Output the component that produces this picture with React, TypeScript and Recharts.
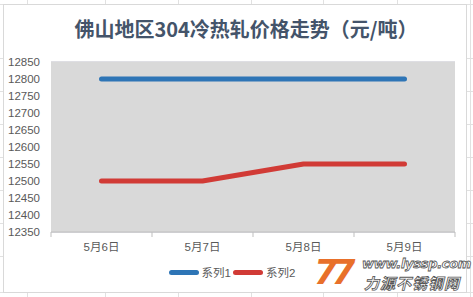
import React from "react";
import { LineChart, Line, XAxis, YAxis, CartesianGrid, Legend } from "recharts";

const categories = ["5月6日", "5月7日", "5月8日", "5月9日"];
const series1 = [12800, 12800, 12800, 12800];
const series2 = [12500, 12500, 12550, 12550];
const yTicks = [12350, 12400, 12450, 12500, 12550, 12600, 12650, 12700, 12750, 12800, 12850];
const seriesNames = ["系列1", "系列2"];
const seriesColors = ["#2e75b6", "#d13b36"];
const title = "佛山地区304冷热轧价格走势（元/吨）";

const data = categories.map((c, i) => ({ name: c, s1: series1[i], s2: series2[i] }));

const FONT = "'Liberation Sans', Arial, 'Noto Sans CJK SC', sans-serif";
const HALF = (455 - 51) / categories.length / 2;

const XTick = (props: any) => {
  const { x, y, payload, index } = props;
  return (
    <g>
      <line x1={x - HALF} x2={x - HALF} y1={y - 8} y2={y - 3} stroke="#bfbfbf" />
      {index === categories.length - 1 && (
        <line x1={x + HALF} x2={x + HALF} y1={y - 8} y2={y - 3} stroke="#bfbfbf" />
      )}
      <text x={x} y={y + 11} textAnchor="middle" fontSize={11.5} fill="#595959" fontFamily={FONT}>
        {payload.value}
      </text>
    </g>
  );
};

const LegendContent = () => (
  <div style={{ display: "flex", justifyContent: "center", alignItems: "center", fontFamily: FONT, fontSize: 11.5, color: "#595959", marginTop: -3, paddingLeft: 8 }}>
    {seriesNames.map((n, i) => (
      <div key={n} style={{ display: "flex", alignItems: "center" }}>
        <div style={{ width: 30, height: 5, borderRadius: 3, background: seriesColors[i], marginRight: 3 }} />
        <span style={{ marginRight: 2 }}>{n}</span>
      </div>
    ))}
  </div>
);

export default function App() {
  const vLines = [27, 105, 178, 251, 323, 397, 470];
  const hLines = [4, 58, 91, 124, 157, 190, 223, 256, 292];
  return (
    <div style={{ position: "absolute", left: 0, top: 0, width: 473, height: 297, background: "#fff", overflow: "hidden" }}>
      {vLines.map((x) => (
        <div key={"v" + x} style={{ position: "absolute", left: x, top: 0, width: 1, height: 297, background: "#e1e1e1" }} />
      ))}
      {hLines.map((y) => (
        <div key={"h" + y} style={{ position: "absolute", left: 0, top: y, width: 473, height: 1, background: "#e1e1e1" }} />
      ))}
      <div style={{ position: "absolute", left: 3, top: 4, width: 462, height: 287, background: "#fff", border: "1px solid #d9d9d9" }} />
      <div style={{ position: "absolute", left: 0, top: 0 }}>
        <LineChart width={473} height={297} data={data} margin={{ top: 62, right: 18, bottom: 0, left: 3 }}>
          <text x={246} y={37} textAnchor="middle" fontSize={20} fontWeight="bold" fill="#44546a" fontFamily="'Noto Sans CJK SC', sans-serif">
            {title}
          </text>
          <rect x={51} y={62} width={404} height={170} fill="#d9d9d9" />
          <CartesianGrid vertical={false} stroke="#bcbcc6" strokeWidth={1} />
          <XAxis dataKey="name" height={35} axisLine={{ stroke: "#bfbfbf" }} tickLine={false} tick={<XTick />} interval={0} padding={{ left: HALF, right: HALF }} />
          <YAxis
            domain={[12350, 12850]}
            ticks={yTicks}
            width={48}
            axisLine={false}
            tickLine={false}
            tick={{ fontSize: 11.5, fill: "#595959", fontFamily: FONT }}
            tickMargin={5}
            interval={0}
          />
          <Legend verticalAlign="bottom" height={30} content={<LegendContent />} />
          <Line dataKey="s1" name={seriesNames[0]} stroke={seriesColors[0]} strokeWidth={5} strokeLinecap="round" strokeLinejoin="round" dot={false} isAnimationActive={false} />
          <Line dataKey="s2" name={seriesNames[1]} stroke={seriesColors[1]} strokeWidth={5} strokeLinecap="round" strokeLinejoin="round" dot={false} isAnimationActive={false} />
        </LineChart>
      </div>
      <div style={{ position: "absolute", left: 314, top: 252, fontFamily: "'DejaVu Sans', sans-serif", fontWeight: "bold", fontStyle: "italic", fontSize: 34, color: "#e8702a", letterSpacing: -6, lineHeight: "40px" }}>
        77
      </div>
      <div style={{ position: "absolute", left: 362, top: 256, fontFamily: "'DejaVu Sans', sans-serif", fontWeight: "bold", fontStyle: "italic", fontSize: 13, color: "#fff", WebkitTextStroke: "0.8px #555", lineHeight: "16px", letterSpacing: -0.3 }}>
        www.lyssp.com
      </div>
      <div style={{ position: "absolute", left: 364, top: 274, fontFamily: "'Noto Sans CJK SC', sans-serif", fontWeight: "bold", fontStyle: "italic", fontSize: 15, color: "#fff", WebkitTextStroke: "0.8px #555", lineHeight: "18px", letterSpacing: 1 }}>
        力源不锈钢网
      </div>
    </div>
  );
}
